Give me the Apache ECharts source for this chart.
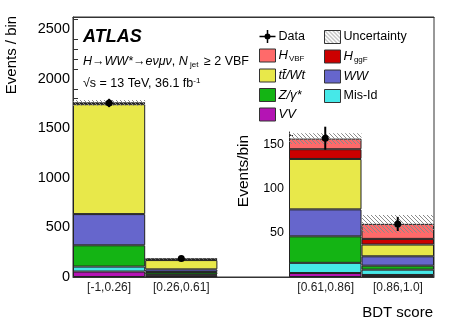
<!DOCTYPE html>
<html>
<head>
<meta charset="utf-8">
<script src="https://cdn.jsdelivr.net/npm/echarts@6/dist/echarts.min.js"></script>
<style>
  html, body { margin: 0; padding: 0; background: #fff; }
  #chart { width: 457px; height: 330px; }
</style>
</head>
<body>
<div id="chart"></div>
<script>
// BDT score bins
var bins = ['[-1,0.26]', '[0.26,0.61]', '[0.61,0.86]', '[0.86,1.0]'];

// stacked backgrounds / signals per bin (events / bin)
var vv     = [55, 18, 4.5, 2.3];
var misId  = [50, 8, 11.5, 6];
var zgamma = [215, 24, 30, 4.5];
var ww     = [315, 27, 30.5, 10.6];
var ttWt   = [1110, 94, 57, 13.3];
var hggf   = [10, 8, 11, 6.4];
var hvbf   = [3, 6, 12, 17];

// observed data and uncertainties
var dataVals = [1757, 188, 157, 60];
var dataErr  = [42, 14, 13, 8];
var uncert   = [30, 8, 6, 10];

var FONT = '"Liberation Sans", Arial, sans-serif';

// stack order bottom -> top
var stackDefs = [
  { name: 'VV',     vals: vv,     color: '#b414b4' },
  { name: 'Mis-Id', vals: misId,  color: '#46e8e8' },
  { name: 'Zgamma', vals: zgamma, color: '#14b414' },
  { name: 'WW',     vals: ww,     color: '#6666cc' },
  { name: 'ttWt',   vals: ttWt,   color: '#e8e84a' },
  { name: 'HggF',   vals: hggf,   color: '#cc0000' },
  { name: 'HVBF',   vals: hvbf,   color: '#ff6a6a' }
];

function hatch() {
  var c = document.createElement('canvas');
  c.width = 4; c.height = 4;
  var g = c.getContext('2d');
  g.strokeStyle = '#8a8a8a';
  g.lineWidth = 1;
  g.beginPath();
  g.moveTo(-1, -1); g.lineTo(5, 5);
  g.moveTo(-1, 3); g.lineTo(1, 5);
  g.moveTo(3, -1); g.lineTo(5, 1);
  g.stroke();
  return c;
}
var hatchFill = { image: hatch(), repeat: 'repeat' };

var tot = bins.map(function (b, i) {
  return stackDefs.reduce(function (s, d) { return s + d.vals[i]; }, 0);
});

// main axis: bins 0,1 + empty slot + bins 2,3 (drawn in inset)
var mainCats = [bins[0], bins[1], '', bins[2], bins[3]];
function mainData(arr) { return [arr[0], arr[1], '-', '-', '-']; }
function insetData(arr) { return [arr[2], arr[3]]; }

var series = [];
[0, 1].forEach(function (g) {
  var pick = g === 0 ? mainData : insetData;
  var xi = g === 0 ? 0 : 2;
  stackDefs.forEach(function (d) {
    series.push({
      name: d.name, type: 'bar', stack: 'bkg' + g,
      xAxisIndex: xi, yAxisIndex: g,
      barWidth: '100%', barGap: '-100%',
      itemStyle: { color: d.color, borderColor: '#222', borderWidth: 1 },
      data: pick(d.vals)
    });
  });
  series.push({
    name: 'uncBase', type: 'bar', stack: 'unc' + g, silent: true,
    xAxisIndex: xi, yAxisIndex: g,
    barWidth: '100%', barGap: '-100%',
    itemStyle: { color: 'rgba(0,0,0,0)' },
    data: pick(tot.map(function (t, i) { return t - uncert[i]; }))
  });
  series.push({
    name: 'Uncertainty', type: 'bar', stack: 'unc' + g,
    xAxisIndex: xi, yAxisIndex: g,
    barWidth: '100%', barGap: '-100%',
    itemStyle: { color: hatchFill },
    data: pick(uncert.map(function (u) { return 2 * u; }))
  });
  var idx = g === 0 ? [0, 1] : [2, 3];
  var pts = idx.map(function (k, j) { return [j, dataVals[k], dataErr[k]]; });
  series.push({
    name: 'Data', type: 'custom',
    xAxisIndex: xi, yAxisIndex: g,
    itemStyle: { color: '#000' },
    z: 5,
    renderItem: function (params, api) {
      var x = api.value(0), y = api.value(1), e = api.value(2);
      var p = api.coord([x, y]);
      var hi = api.coord([x, y + e]);
      var lo = api.coord([x, y - e]);
      return { type: 'group', children: [
        { type: 'line', shape: { x1: p[0], y1: hi[1], x2: p[0], y2: lo[1] }, style: { stroke: '#000', lineWidth: 2 } },
        { type: 'circle', shape: { cx: p[0], cy: p[1], r: 3.5 }, style: { fill: '#000' } }
      ] };
    },
    data: pts
  });
});

var legendNames = {
  'Data': 'Data',
  'Uncertainty': 'Uncertainty',
  'HVBF': '{i|H}{s|VBF}',
  'HggF': '{i|H}{s|ggF}',
  'ttWt': '{i|t\u0074\u0304/Wt}',
  'WW': '{i|WW}',
  'Zgamma': '{i|Z/\u03b3*}',
  'Mis-Id': 'Mis-Id',
  'VV': '{i|VV}'
};
var legendRich = {
  i: { fontStyle: 'italic', fontSize: 13, fontFamily: FONT, color: '#000' },
  s: { fontSize: 8, fontFamily: FONT, color: '#000', padding: [7, 0, 0, 1] }
};
var dataIcon = 'path://M0,5.75h16v1.5h-16z M7.25,0h1.5v13h-1.5z M11,6.5a3,3 0 1,1 -6,0a3,3 0 1,1 6,0z';
function legendBox(left, items) {
  return {
    orient: 'vertical', left: left, top: 25,
    itemWidth: 16, itemHeight: 13, itemGap: 5.5,
    selectedMode: false, icon: 'rect',
    itemStyle: { borderColor: '#333', borderWidth: 1 },
    textStyle: { fontSize: 12.5, fontFamily: FONT, color: '#000', padding: [0, 0, 0, -2], rich: legendRich },
    formatter: function (n) { return legendNames[n]; },
    data: items
  };
}

var option = {
  animation: false,
  textStyle: { fontFamily: FONT },
  grid: [
    { left: 73, right: 23, top: 17, bottom: 53, show: true, borderColor: '#333', borderWidth: 1 },
    { left: 289, right: 23, top: 132, bottom: 53 }
  ],
  legend: [
    legendBox(254, [{ name: 'Data', icon: dataIcon, itemStyle: { borderWidth: 0 } }, 'HVBF', 'ttWt', 'Zgamma', 'VV']),
    legendBox(319, ['Uncertainty', 'HggF', 'WW', 'Mis-Id'])
  ],
  xAxis: [
    {
      gridIndex: 0, type: 'category', data: mainCats, position: 'bottom',
      axisLine: { lineStyle: { color: '#333' } },
      axisTick: { inside: true, alignWithLabel: true, length: 5, lineStyle: { color: '#333' } },
      axisLabel: { fontSize: 12, color: '#222', margin: 5, interval: 0 }
    },
    {
      gridIndex: 0, type: 'category', data: mainCats, position: 'top',
      axisLine: { lineStyle: { color: '#333' } },
      axisTick: { inside: true, length: 7, lineStyle: { color: '#333' } },
      axisLabel: { show: false }
    },
    {
      gridIndex: 1, type: 'category', data: insetData(bins),
      axisLine: { show: false }, axisTick: { show: false }, axisLabel: { show: false }
    }
  ],
  yAxis: [
    {
      gridIndex: 0, type: 'value', min: 0, max: 2625, interval: 500,
      axisLine: { show: true, lineStyle: { color: '#333' } },
      axisTick: { inside: true, length: 9, lineStyle: { color: '#333' } },
      minorTick: { show: true, splitNumber: 5, length: 5, lineStyle: { color: '#333' } },
      splitLine: { show: false },
      axisLabel: { fontSize: 14.5, color: '#000', margin: 3, showMaxLabel: false,
        formatter: function (v) { return String(v); } }
    },
    {
      gridIndex: 1, type: 'value', min: 0, max: 164, interval: 50,
      axisLine: { show: true, lineStyle: { color: '#333' } },
      axisTick: { inside: true, length: 7, lineStyle: { color: '#333' } },
      minorTick: { show: true, splitNumber: 5, length: 4, lineStyle: { color: '#333' } },
      splitLine: { show: false },
      axisLabel: { fontSize: 12.5, color: '#000', margin: 5, showMaxLabel: false,
        formatter: function (v) { return v === 0 ? '' : String(v); } }
    }
  ],
  graphic: [
    { type: 'text', x: 12, y: 55, rotation: Math.PI / 2,
      style: { text: 'Events / bin', font: '15px ' + FONT, fill: '#000', textAlign: 'center', textVerticalAlign: 'middle' } },
    { type: 'text', x: 244, y: 171, rotation: Math.PI / 2,
      style: { text: 'Events/bin', font: '15.5px ' + FONT, fill: '#000', textAlign: 'center', textVerticalAlign: 'middle' } },
    { type: 'text', x: 433, y: 313,
      style: { text: 'BDT score', font: '15px ' + FONT, fill: '#000', textAlign: 'right', textVerticalAlign: 'middle' } },
    { type: 'text', x: 83, y: 37,
      style: { text: 'ATLAS', font: 'italic bold 18px ' + FONT, fill: '#000', textVerticalAlign: 'middle' } },
    { type: 'text', x: 83, y: 62,
      style: {
        text: '{i|H}{n|\u2192}{i|WW*}{n|\u2192}{i|e\u03bd\u03bc\u03bd}{n|, }{i|N}{s| jet}{n| \u2265 2 VBF}',
        textVerticalAlign: 'middle',
        rich: {
          i: { fontStyle: 'italic', fontSize: 12.5, fontFamily: FONT, fill: '#000' },
          n: { fontSize: 12.5, fontFamily: FONT, fill: '#000' },
          s: { fontSize: 8, fontFamily: FONT, fill: '#000', padding: [6, 2, 0, 0] }
        }
      } },
    { type: 'text', x: 83, y: 84,
      style: {
        text: '{n|\u221as = 13 TeV, 36.1 fb}{p|-1}',
        textVerticalAlign: 'middle',
        rich: {
          n: { fontSize: 12.5, fontFamily: FONT, fill: '#000' },
          p: { fontSize: 8, fontFamily: FONT, fill: '#000', padding: [0, 0, 7, 0] }
        }
      } }
  ],
  series: series
};

var chart = echarts.init(document.getElementById('chart'));
chart.setOption(option);
</script>
</body>
</html>
